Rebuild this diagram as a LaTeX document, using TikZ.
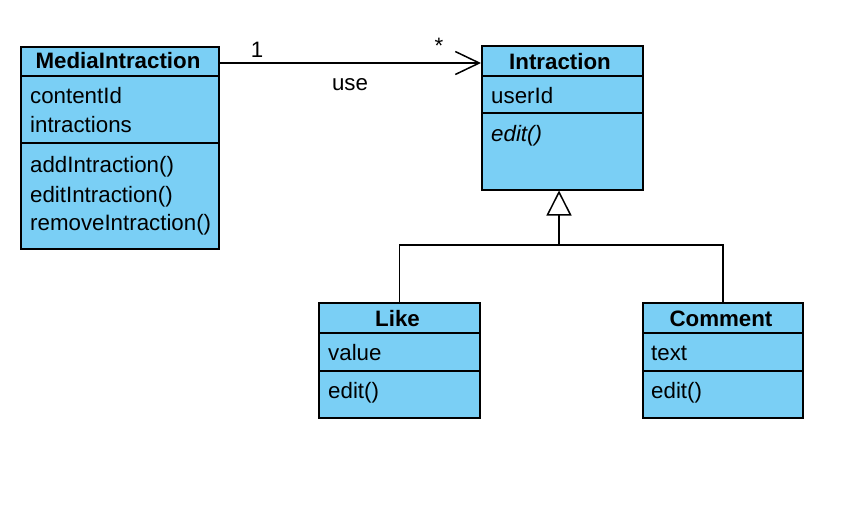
\documentclass[tikz,border=0pt]{standalone}
\usepackage{fontspec}
\setmainfont{Liberation Sans}
\usetikzlibrary{arrows.meta, positioning}
\definecolor{classblue}{RGB}{122,207,245}

\tikzset{
  cls/.style={draw, fill=classblue, line width=1.5pt, anchor=north west, inner sep=0pt},
  sepline/.style={line width=1.5pt},
  ttl/.style={anchor=base, inner sep=0pt, font=\fontsize{22.3}{26}\selectfont\bfseries},
  mbr/.style={anchor=base west, inner sep=0pt, font=\fontsize{22.3}{26}\selectfont},
  lbl/.style={inner sep=0pt, font=\fontsize{22.3}{26}\selectfont},
  assoc/.style={line width=1.5pt, -{Straight Barb[length=24pt, width=23pt, line width=1.5pt]}},
  inherit/.style={line width=1.5pt, -{Triangle[open, length=25pt, width=25pt, line width=1.5pt]}}
}

\begin{document}
\begin{tikzpicture}[x=1pt, y=-1pt]
	\useasboundingbox[fill=white] (0,0) rectangle (848,512);

	% class boxes
	\node[cls, minimum width=198pt, minimum height=202pt] (media) at (20,46) {};
	\node[cls, minimum width=161pt, minimum height=144pt] (intr) at (481,45) {};
	\node[cls, minimum width=161pt, minimum height=115pt] (like) at (318,302) {};
	\node[cls, minimum width=160pt, minimum height=115pt] (comment) at (642,302) {};

	% compartments
	\draw[sepline] (media.west |- 0,76) -- (media.east |- 0,76);
	\draw[sepline] (media.west |- 0,143) -- (media.east |- 0,143);
	\draw[sepline] (intr.west |- 0,76) -- (intr.east |- 0,76);
	\draw[sepline] (intr.west |- 0,113) -- (intr.east |- 0,113);
	\draw[sepline] (like.west |- 0,333) -- (like.east |- 0,333);
	\draw[sepline] (like.west |- 0,371) -- (like.east |- 0,371);
	\draw[sepline] (comment.west |- 0,333) -- (comment.east |- 0,333);
	\draw[sepline] (comment.west |- 0,371) -- (comment.east |- 0,371);

	% texts
	\node[ttl] (mediaT) at (118,68) {MediaIntraction};
	\node[mbr] (mediaA1) at (30,103) {contentId};
	\node[mbr] (mediaA2) at (30,132) {intractions};
	\node[mbr] (mediaO1) at (30,172) {addIntraction()};
	\node[mbr] (mediaO2) at (30,202) {editIntraction()};
	\node[mbr] (mediaO3) at (30,230) {removeIntraction()};

	\node[ttl] (intrT) at (560,69) {Intraction};
	\node[mbr] (intrA1) at (491,103) {userId};
	\node[mbr] (intrO1) at (491,141) {\itshape edit()};

	\node[ttl] (likeT) at (397.5,326) {Like};
	\node[mbr] (likeA1) at (328,360) {value};
	\node[mbr] (likeO1) at (328,398) {edit()};

	\node[ttl] (commentT) at (721,326) {Comment};
	\node[mbr] (commentA1) at (651,360) {text};
	\node[mbr] (commentO1) at (651,398) {edit()};

	% association
	\draw[assoc] (media.east |- 0,63) -- (intr.west |- 0,63);
	\node[lbl] (multA) at (257,50) {1};
	\node[lbl] (multB) at (439,46) {*};
	\node[lbl] (useL) at (350,85) {use};

	% generalization
	\coordinate (joint) at (559,245);
	\draw[sepline] (like.north) |- (joint) -| (comment.north);
	\draw[inherit] (joint) -- (joint |- intr.south);
\end{tikzpicture}
\end{document}
